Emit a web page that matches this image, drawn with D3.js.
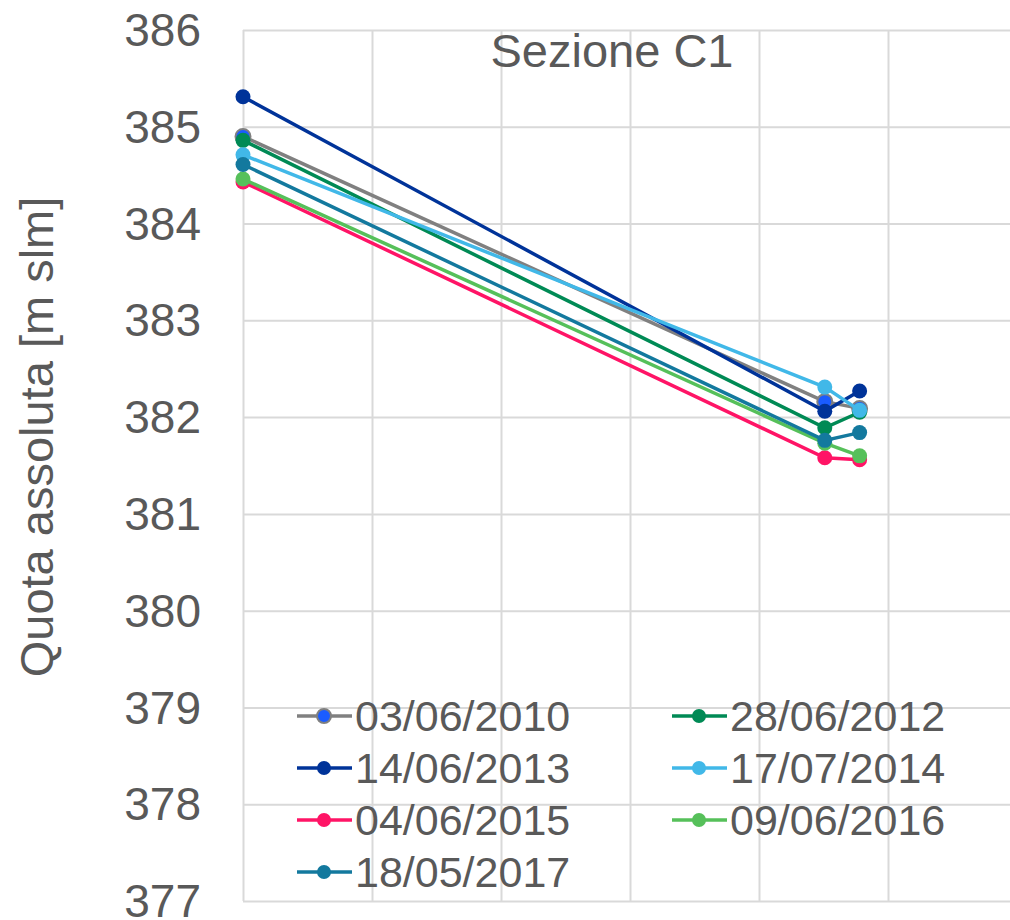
<!DOCTYPE html>
<html lang="it">
<head>
<meta charset="UTF-8">
<title>Sezione C1</title>
<script src="https://d3js.org/d3.v7.min.js"></script>
<style>
    body { margin: 0; background: #fff; }
    svg text { font-family: "Liberation Sans", Arial, sans-serif; fill: #595959; }
    .grid line { stroke: #d9d9d9; stroke-width: 2px; }
    .grid path { display: none; }
    .serie { fill: none; stroke-width: 3.5px; }
</style>
</head>
<body>
<div id="chart"></div>
<script>
// posizioni lungo la sezione (unità arbitrarie) e quote misurate
const distanze = [0, 22.55, 23.9];
const date = ["03/06/2010", "28/06/2012", "14/06/2013", "17/07/2014", "04/06/2015", "09/06/2016", "18/05/2017"];
const quote2010 = [384.90, 382.16, 382.09];
const quote2012 = [384.86, 381.89, 382.05];
const quote2013 = [385.31, 382.06, 382.27];
const quote2014 = [384.71, 382.31, 382.07];
const quote2015 = [384.43, 381.58, 381.56];
const quote2016 = [384.46, 381.73, 381.60];
const quote2017 = [384.61, 381.76, 381.84];
const yTicks = [377, 378, 379, 380, 381, 382, 383, 384, 385, 386];

const serie = [
    { nome: date[0], valori: quote2010, linea: "#808080", punto: "#1a5cff" },
    { nome: date[1], valori: quote2012, linea: "#008a55", punto: "#008a55" },
    { nome: date[2], valori: quote2013, linea: "#003399", punto: "#003399" },
    { nome: date[3], valori: quote2014, linea: "#41b8e8", punto: "#41b8e8" },
    { nome: date[4], valori: quote2015, linea: "#ff1466", punto: "#ff1466" },
    { nome: date[5], valori: quote2016, linea: "#56c05a", punto: "#56c05a" },
    { nome: date[6], valori: quote2017, linea: "#13799e", punto: "#13799e" }
];

const W = 1010, H = 920;
const plotLeft = 243, plotRight = 1017, plotTop = 30, plotBottom = 901;

const svg = d3.select("#chart").append("svg")
    .attr("width", W).attr("height", H);

const x = d3.scaleLinear().domain([0, 30]).range([plotLeft, plotRight]);
const y = d3.scaleLinear().domain([377, 386]).range([plotBottom, plotTop]);

// griglia orizzontale
svg.append("g")
    .attr("class", "grid")
    .attr("transform", `translate(${plotLeft},0)`)
    .call(d3.axisLeft(y).tickValues(yTicks).tickSize(-(plotRight - plotLeft)).tickFormat(""));

// griglia verticale
svg.append("g")
    .attr("class", "grid")
    .attr("transform", `translate(0,${plotTop})`)
    .call(d3.axisBottom(x).tickValues(d3.range(0, 31, 5)).tickSize(plotBottom - plotTop).tickFormat(""));

// etichette asse y
svg.append("g").selectAll("text")
    .data(yTicks)
    .enter().append("text")
    .attr("x", 201)
    .attr("y", d => y(d))
    .attr("dy", "0.35em")
    .attr("text-anchor", "end")
    .style("font-size", "46px")
    .text(d => d);

// titolo asse y
svg.append("text")
    .attr("transform", "rotate(-90)")
    .attr("x", -437)
    .attr("y", 53)
    .attr("text-anchor", "middle")
    .style("font-size", "47px")
    .text("Quota assoluta [m slm]");

// titolo
svg.append("text")
    .attr("x", 612)
    .attr("y", 67)
    .attr("text-anchor", "middle")
    .style("font-size", "47px")
    .text("Sezione C1");

const line = d3.line()
    .x((d, i) => x(distanze[i]))
    .y(d => y(d));

serie.forEach(s => {
    const g = svg.append("g");
    g.append("path")
        .attr("class", "serie")
        .attr("d", line(s.valori))
        .attr("stroke", s.linea);
    g.selectAll("circle")
        .data(s.valori)
        .enter().append("circle")
        .attr("cx", (d, i) => x(distanze[i]))
        .attr("cy", d => y(d))
        .attr("r", 7.5)
        .attr("fill", s.punto)
        .attr("stroke", s.linea)
        .attr("stroke-width", s.linea === s.punto ? 0 : 2);
});

// legenda
const colonne = [297, 672];
const righe = [716, 768, 820, 872];
const legenda = svg.append("g");
serie.forEach((s, i) => {
    const lx = colonne[i % 2];
    const ly = righe[Math.floor(i / 2)];
    const item = legenda.append("g").attr("transform", `translate(${lx},${ly})`);
    item.append("line")
        .attr("x1", 0).attr("x2", 55)
        .attr("stroke", s.linea).attr("stroke-width", 3.5);
    item.append("circle")
        .attr("cx", 27).attr("r", 7)
        .attr("fill", s.punto)
        .attr("stroke", s.linea)
        .attr("stroke-width", s.linea === s.punto ? 0 : 2);
    item.append("text")
        .attr("x", 58)
        .attr("dy", "0.35em")
        .style("font-size", "43px")
        .text(s.nome);
});
</script>
</body>
</html>
